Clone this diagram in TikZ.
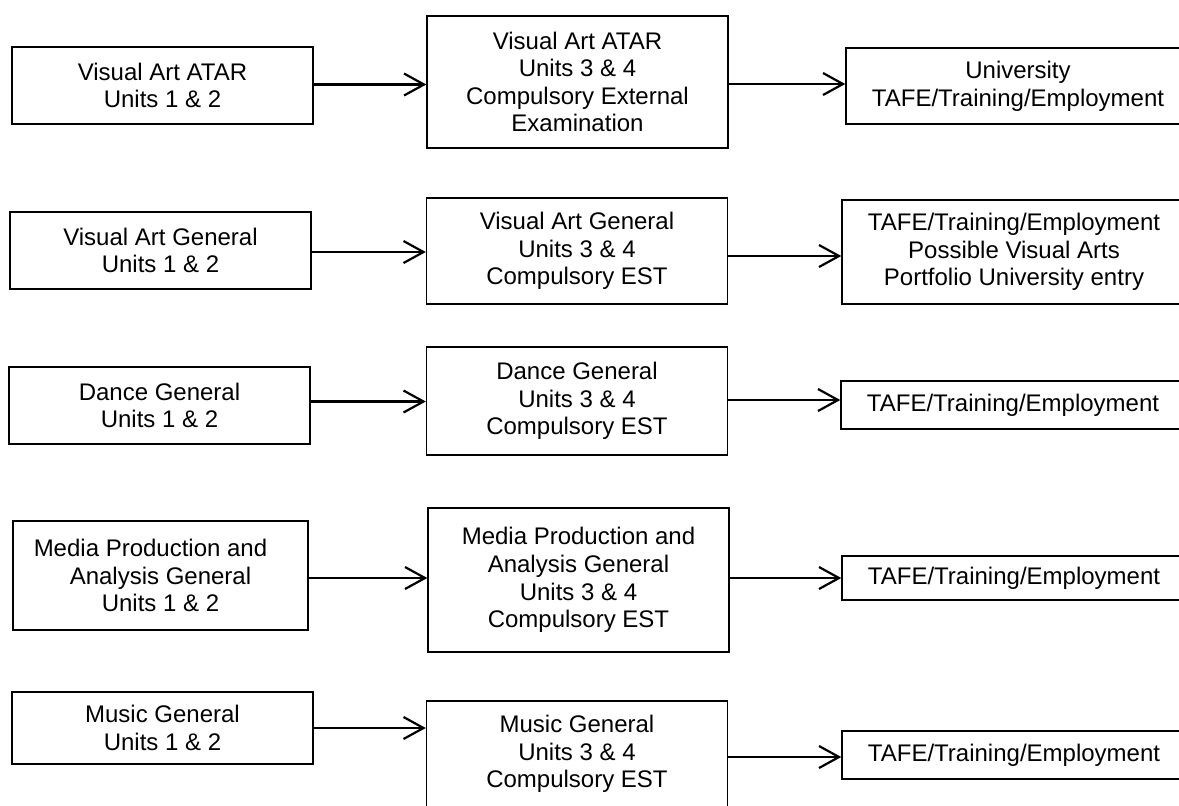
\documentclass[tikz,border=0pt]{standalone}
\usepackage{fontspec}
\setmainfont{Liberation Sans}
\usetikzlibrary{arrows.meta}
\begin{document}
\begin{tikzpicture}[x=0.5pt,y=-0.5pt,
  box/.style={draw, line width=0.7pt, align=center, inner sep=0pt,
    font=\fontsize{12pt}{13.8pt}\selectfont},
  leftbox/.style={box, minimum width=150.5pt, minimum height=38.5pt},
  midbox/.style={box, minimum width=150.5pt},
  rightbox/.style={box, minimum width=172pt},
  link/.style={line width=1.1pt, -{Straight Barb[length=10pt,width=11pt,line width=1.1pt]}}]
\useasboundingbox (0,0) rectangle (1179,805);
\clip (0,0) rectangle (1179,805);

% Row 1
\node[leftbox] (A1) at (162.5,85.5) {Visual Art ATAR\\Units 1 \& 2};
\node[midbox, minimum height=66pt] (B1) at (577.5,82) {Visual Art ATAR\\Units 3 \& 4\\Compulsory External\\Examination};
\node[rightbox, minimum height=38pt] (C1) at (1018,86) {University\\TAFE/Training/Employment};
\draw[link] ([yshift=0.5pt]A1.east) -- ([yshift=0.5pt]A1.east -| B1.west);
\draw[link] ([yshift=-1pt]B1.east) -- ([yshift=-1pt]B1.east -| C1.west);

% Row 2
\node[leftbox] (A2) at (160.5,250.5) {Visual Art General\\Units 1 \& 2};
\node[midbox, minimum height=53pt] (B2) at (577,251) {Visual Art General\\Units 3 \& 4\\Compulsory EST};
\node[rightbox, minimum height=52pt] (C2) at (1014,252) {TAFE/Training/Employment\\Possible Visual Arts\\Portfolio University entry};
\draw[link] ([yshift=-0.75pt]A2.east) -- ([yshift=-0.75pt]A2.east -| B2.west);
\draw[link] ([yshift=-2.5pt]B2.east) -- ([yshift=-2.5pt]B2.east -| C2.west);

% Row 3
\node[leftbox] (A3) at (159.5,405.5) {Dance General\\Units 1 \& 2};
\node[midbox, minimum height=54pt] (B3) at (577,401) {Dance General\\Units 3 \& 4\\Compulsory EST};
\node[rightbox, minimum height=24pt] (C3) at (1013,405) {TAFE/Training/Employment};
\draw[link] ([yshift=2pt]A3.east) -- ([yshift=2pt]A3.east -| B3.west);
\draw[link] ([yshift=0.5pt]B3.east) -- ([yshift=0.5pt]B3.east -| C3.west);

% Row 4
\node[box, minimum width=147.5pt, minimum height=54.5pt] (A4) at (160.5,575.5) {Media Production and\hspace*{10pt}\\Analysis General\hspace*{10pt}\\Units 1 \& 2};
\node[midbox, minimum height=72pt] (B4) at (578.5,580) {Media Production and\\Analysis General\\Units 3 \& 4\\Compulsory EST};
\node[rightbox, minimum height=22pt] (C4) at (1014,578) {TAFE/Training/Employment};
\draw[link] ([yshift=-1.25pt]A4.east) -- ([yshift=-1.25pt]A4.east -| B4.west);
\draw[link] ([yshift=1pt]B4.east) -- ([yshift=1pt]B4.east -| C4.west);

% Row 5
\node[leftbox, minimum height=36pt] (A5) at (162.5,728) {Music General\\Units 1 \& 2};
\node[midbox, minimum height=53pt] (B5) at (577,754) {Music General\\Units 3 \& 4\\Compulsory EST};
\node[rightbox, minimum height=24pt] (C5) at (1014,755) {TAFE/Training/Employment};
\draw[link] (A5.east) -- (A5.east -| B5.west);
\draw[link] ([yshift=-1.5pt]B5.east) -- ([yshift=-1.5pt]B5.east -| C5.west);
\end{tikzpicture}
\end{document}
